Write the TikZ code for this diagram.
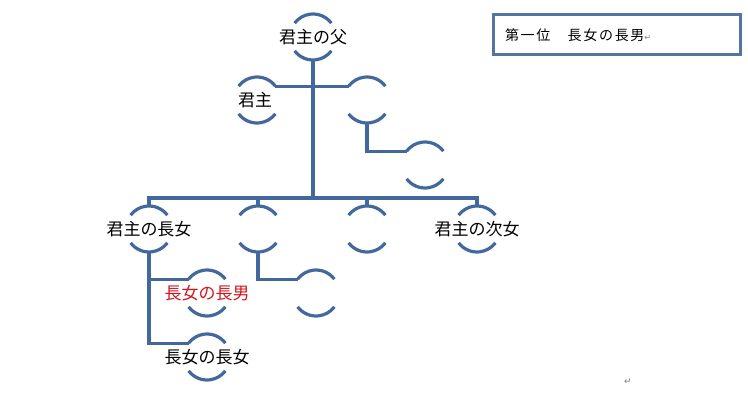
\documentclass[tikz,border=0pt]{standalone}
\usepackage{fontspec}
\usepackage{tikz}
\usetikzlibrary{calc}
\usepackage{xcolor}
\newfontfamily\jpfont{Noto Sans CJK JP}
\newfontfamily\jpbox[LetterSpace=12]{Noto Sans CJK JP}
\newfontfamily\markfont{DejaVu Sans}
\definecolor{lineblue}{RGB}{66,104,158}
\definecolor{boxblue}{RGB}{84,116,162}
\definecolor{myred}{RGB}{210,20,30}

\begin{document}
\begin{tikzpicture}[x=1pt, y=1pt,
    arcline/.style={draw=lineblue, line width=3.2pt},
    link/.style={draw=lineblue, line width=3.2pt},
    trunk/.style={draw=lineblue, line width=4.6pt},
    every label/.style={font=\jpfont\fontsize{17}{20}\selectfont, inner sep=0pt},
    member/.style={circle, minimum size=46pt, inner sep=0pt, outer sep=0pt,
      append after command={\pgfextra{
        \draw[arcline] (\tikzlastnode.37) arc[start angle=37, end angle=143, radius=23pt];
        \draw[arcline] (\tikzlastnode.217) arc[start angle=217, end angle=323, radius=23pt];}}}]
  \useasboundingbox (0,0) rectangle (748,-404);

  % Members
  \node[member, label=center:君主の父] (father) at (313,-37) {};
  \node[member, label={[xshift=-2pt]center:君主}] (lord) at (257,-100) {};
  \node[member] (aide) at (367,-100) {};
  \node[member] (aidekid) at (425,-165) {};
  \node[member, label=center:君主の長女] (eldest) at (149,-229) {};
  \node[member] (second) at (258,-229) {};
  \node[member] (third) at (367,-229) {};
  \node[member, label=center:君主の次女] (younger) at (477,-229) {};
  \node[member] (secondkid) at (316,-293) {};
  \node[member, label={[text=myred]center:長女の長男}] (son) at (207,-293) {};
  \node[member, label=center:長女の長女] (daughter) at (207,-357) {};
  \coordinate (bus) at (313,-198);

  % Lines
  \draw[trunk] (father.south) -- (bus);
  \draw[link] (lord.37) -- (aide.143);
  \draw[link] (aide.south) |- (aidekid.143);
  \draw[link] (eldest.north) |- (bus) -| (younger.north);
  \draw[link] (second.north) -- (second.north |- bus);
  \draw[link] (third.north) -- (third.north |- bus);
  \draw[link] (eldest.south) |- (son.143);
  \draw[link] (eldest.south) |- (daughter.143);
  \draw[link] (second.south) |- (secondkid.143);

  % Rank box
  \node[draw=boxblue, line width=3pt, minimum width=247pt, minimum height=40pt,
        text width=223pt, inner xsep=12pt, align=left] (rank) at (616.5,-35)
       {\jpbox\fontsize{14}{16}\selectfont 第一位　長女の長男{\markfont\fontsize{8}{9}\selectfont\color{gray}↵}};
  \node[font=\markfont\fontsize{9}{10}\selectfont, text=gray] (mark) at (628,-382) {↵};
\end{tikzpicture}
\end{document}
